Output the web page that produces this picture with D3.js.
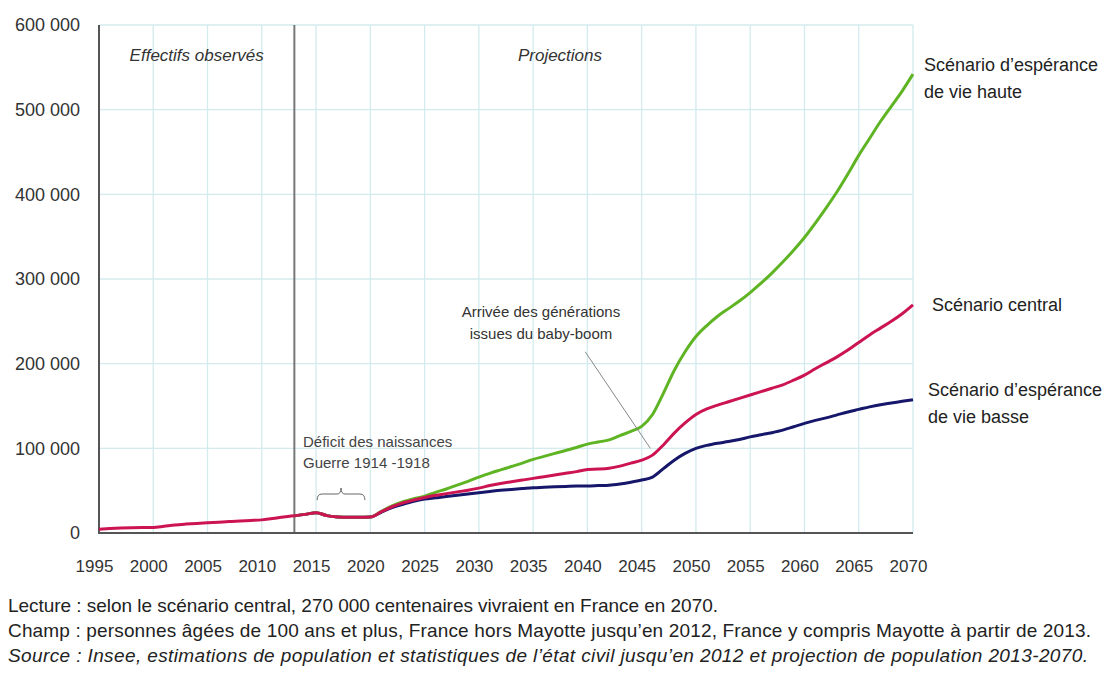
<!DOCTYPE html>
<html>
<head>
<meta charset="utf-8">
<script src="https://cdn.jsdelivr.net/npm/d3@7"></script>
<style>
  body { margin: 0; background: #fff; }
  text { font-family: "Liberation Sans", Arial, sans-serif; }
</style>
</head>
<body>
<div id="chart"></div>
<script>
// observed centenarians 1995-2013
let observedYears = d3.range(1995, 2014);
let observedValues = [4500, 5200, 5800, 6200, 6400, 6600, 8000, 9500, 10500, 11300,
  12000, 12800, 13500, 14200, 14800, 15500, 17000, 19000, 20500];

// projections 2013-2070
let projYears = d3.range(2013, 2071);
let centralValues = [20500, 22000, 24000, 20500, 19000, 18500, 18500, 18800,
  25000, 31000, 35500, 39000, 42000, 44500, 46500, 48500, 50500, 53000,
  56000, 58500, 60500, 62500, 64500, 66500, 68500, 70500, 72500, 75000,
  75500, 76500, 79000, 82500, 86000, 92000, 104000, 118000, 130000, 140000,
  146500, 151000, 155000, 159000, 163000, 167000, 171000, 175000, 180500, 186500,
  194000, 201000, 208000, 216000, 225000, 234000, 242000, 250000, 259000, 269500];
let highValues = [20500, 22000, 24000, 20500, 19000, 18500, 18500, 18800,
  25500, 32000, 37000, 40500, 43500, 48000, 52000, 56500, 61000, 66000,
  70500, 74500, 78500, 82500, 87000, 90500, 94000, 97500, 101000, 105000,
  107500, 110000, 115000, 120000, 126000, 140000, 165000, 192000, 214000, 232000,
  245000, 256000, 265000, 274000, 284000, 295000, 307000, 320000, 334000, 349000,
  366000, 384000, 403000, 424000, 446000, 466000, 486000, 504000, 522000, 542000];
let lowValues = [20500, 22000, 24000, 20500, 19000, 18500, 18500, 18800,
  24500, 30000, 34000, 37500, 40000, 41500, 43000, 44500, 46000, 47500,
  49000, 50500, 51500, 52500, 53500, 54000, 54500, 55000, 55500, 55500,
  56000, 56500, 58000, 60000, 62500, 66000, 76000, 86000, 94000, 100000,
  103500, 106000, 108000, 110500, 113500, 116000, 118500, 121500, 125500, 129500,
  133000, 136000, 139500, 143000, 146000, 149000, 151500, 153500, 155500, 157500];

let yTicks = [0, 100000, 200000, 300000, 400000, 500000, 600000];
let xTicks = d3.range(1995, 2071, 5);

let footLines = [
  "Lecture : selon le scénario central, 270 000 centenaires vivraient en France en 2070.",
  "Champ : personnes âgées de 100 ans et plus, France hors Mayotte jusqu\u2019en 2012, France y compris Mayotte à partir de 2013.",
  "Source : Insee, estimations de population et statistiques de l\u2019état civil jusqu\u2019en 2012 et projection de population 2013-2070."
];
let footWidths = [710, 1083, 1080];

let width = 1109, height = 674;
let margin = {top: 25, left: 99, right: 196, bottom: 141};

let svg = d3.select('#chart').append('svg').attr('width', width).attr('height', height);
svg.append('rect').attr('width', width).attr('height', height).attr('fill', '#fff');

let x = d3.scaleLinear().domain([1995, 2070]).range([margin.left, width - margin.right]);
let y = d3.scaleLinear().domain([0, 600000]).range([height - margin.bottom, margin.top]);

// grid
let grid = svg.append('g');
grid.selectAll('.hg').data(yTicks.slice(1)).enter().append('line')
  .attr('x1', x(1995)).attr('x2', x(2070))
  .attr('y1', d => y(d)).attr('y2', d => y(d))
  .attr('stroke', '#d3ebee').attr('stroke-width', 1.3);
grid.selectAll('.vg').data(xTicks.slice(1)).enter().append('line')
  .attr('x1', d => x(d)).attr('x2', d => x(d))
  .attr('y1', y(0)).attr('y2', y(600000))
  .attr('stroke', '#d3ebee').attr('stroke-width', 1.3);

// separator observed / projections
svg.append('line').attr('x1', x(2013)).attr('x2', x(2013))
  .attr('y1', y(600000)).attr('y2', y(0))
  .attr('stroke', '#777').attr('stroke-width', 2);

// axes
let spaceFmt = d => d3.format(',')(d).replace(/,/g, ' ');
let yAxis = svg.append('g').attr('transform', 'translate(' + x(1995) + ',0)')
  .call(d3.axisLeft(y).tickValues(yTicks).tickSize(0).tickPadding(19).tickFormat(spaceFmt));
yAxis.select('.domain').remove();
yAxis.selectAll('text').attr('font-size', 18).attr('fill', '#333')
  .style('font-family', '"Liberation Sans", Arial, sans-serif');

let xAxis = svg.append('g').attr('transform', 'translate(0,' + y(0) + ')')
  .call(d3.axisBottom(x).tickValues(xTicks).tickSize(0).tickPadding(27).tickFormat(d3.format('d')));
xAxis.select('.domain').remove();
xAxis.selectAll('text').attr('font-size', 17).attr('fill', '#333').attr('dx', -5)
  .style('font-family', '"Liberation Sans", Arial, sans-serif');

svg.append('line').attr('x1', x(1995)).attr('x2', x(1995))
  .attr('y1', y(600000)).attr('y2', y(0)).attr('stroke', '#555').attr('stroke-width', 2);
svg.append('line').attr('x1', x(1995) - 1).attr('x2', x(2070))
  .attr('y1', y(0)).attr('y2', y(0)).attr('stroke', '#555').attr('stroke-width', 2);

// series
let line = d3.line().x(d => x(d[0])).y(d => y(d[1])).curve(d3.curveMonotoneX);
let series = [
  {name: 'low', values: lowValues, color: '#16166b'},
  {name: 'high', values: highValues, color: '#5fb424'},
  {name: 'central', values: centralValues, color: '#cc1452'}
];
series.forEach(s => {
  svg.append('path').datum(projYears.map((yr, i) => [yr, s.values[i]]))
    .attr('d', line).attr('fill', 'none')
    .attr('stroke', s.color).attr('stroke-width', 3).attr('stroke-linejoin', 'round');
});
svg.append('path').datum(observedYears.map((yr, i) => [yr, observedValues[i]]))
  .attr('d', line).attr('fill', 'none')
  .attr('stroke', '#cc1452').attr('stroke-width', 3).attr('stroke-linejoin', 'round');

// section titles
svg.append('text').attr('x', (x(1995) + x(2013)) / 2).attr('y', 61)
  .attr('text-anchor', 'middle').attr('font-size', 17).attr('font-style', 'italic').attr('fill', '#333')
  .text('Effectifs observés');
svg.append('text').attr('x', 560).attr('y', 61)
  .attr('text-anchor', 'middle').attr('font-size', 17).attr('font-style', 'italic').attr('fill', '#333')
  .text('Projections');

// series labels
let labels = [
  {lines: ['Scénario d\u2019espérance', 'de vie haute'], x: 924, y: 71},
  {lines: ['Scénario central'], x: 932, y: 311},
  {lines: ['Scénario d\u2019espérance', 'de vie basse'], x: 928, y: 396}
];
labels.forEach(l => {
  let t = svg.append('text').attr('x', l.x).attr('y', l.y).attr('font-size', 18).attr('fill', '#222');
  l.lines.forEach((s, i) => t.append('tspan').attr('x', l.x).attr('dy', i == 0 ? 0 : 27).text(s));
});

// baby-boom annotation
let bb = svg.append('text').attr('x', 541).attr('y', 317).attr('text-anchor', 'middle')
  .attr('font-size', 15).attr('fill', '#333');
bb.append('tspan').attr('x', 541).text('Arrivée des générations');
bb.append('tspan').attr('x', 541).attr('dy', 22).text('issues du baby-boom');
svg.append('line').attr('x1', x(2039.8)).attr('y1', y(214000))
  .attr('x2', x(2045.8)).attr('y2', y(100000))
  .attr('stroke', '#888').attr('stroke-width', 1);

// birth deficit annotation
let bd = svg.append('text').attr('x', 303).attr('y', 447).attr('font-size', 15).attr('fill', '#444');
bd.append('tspan').attr('x', 303).text('Déficit des naissances');
bd.append('tspan').attr('x', 303).attr('dy', 21).text('Guerre 1914 -1918');

let bx0 = x(2015.1), bx1 = x(2019.5), bm = (bx0 + bx1) / 2, by = 494;
svg.append('path')
  .attr('d', 'M' + bx0 + ',' + (by + 6) + ' Q' + bx0 + ',' + by + ' ' + (bx0 + 5) + ',' + by +
    ' L' + (bm - 4) + ',' + by + ' Q' + bm + ',' + by + ' ' + bm + ',' + (by - 6) +
    ' Q' + bm + ',' + by + ' ' + (bm + 4) + ',' + by +
    ' L' + (bx1 - 5) + ',' + by + ' Q' + bx1 + ',' + by + ' ' + bx1 + ',' + (by + 6))
  .attr('fill', 'none').attr('stroke', '#666').attr('stroke-width', 1);

// footnotes
footLines.forEach((s, i) => {
  svg.append('text').attr('x', 8).attr('y', 612 + i * 25)
    .attr('font-size', 19).attr('fill', '#222')
    .attr('font-style', i == 2 ? 'italic' : 'normal')
    .attr('textLength', footWidths[i]).attr('lengthAdjust', 'spacing')
    .text(s);
});
</script>
</body>
</html>
